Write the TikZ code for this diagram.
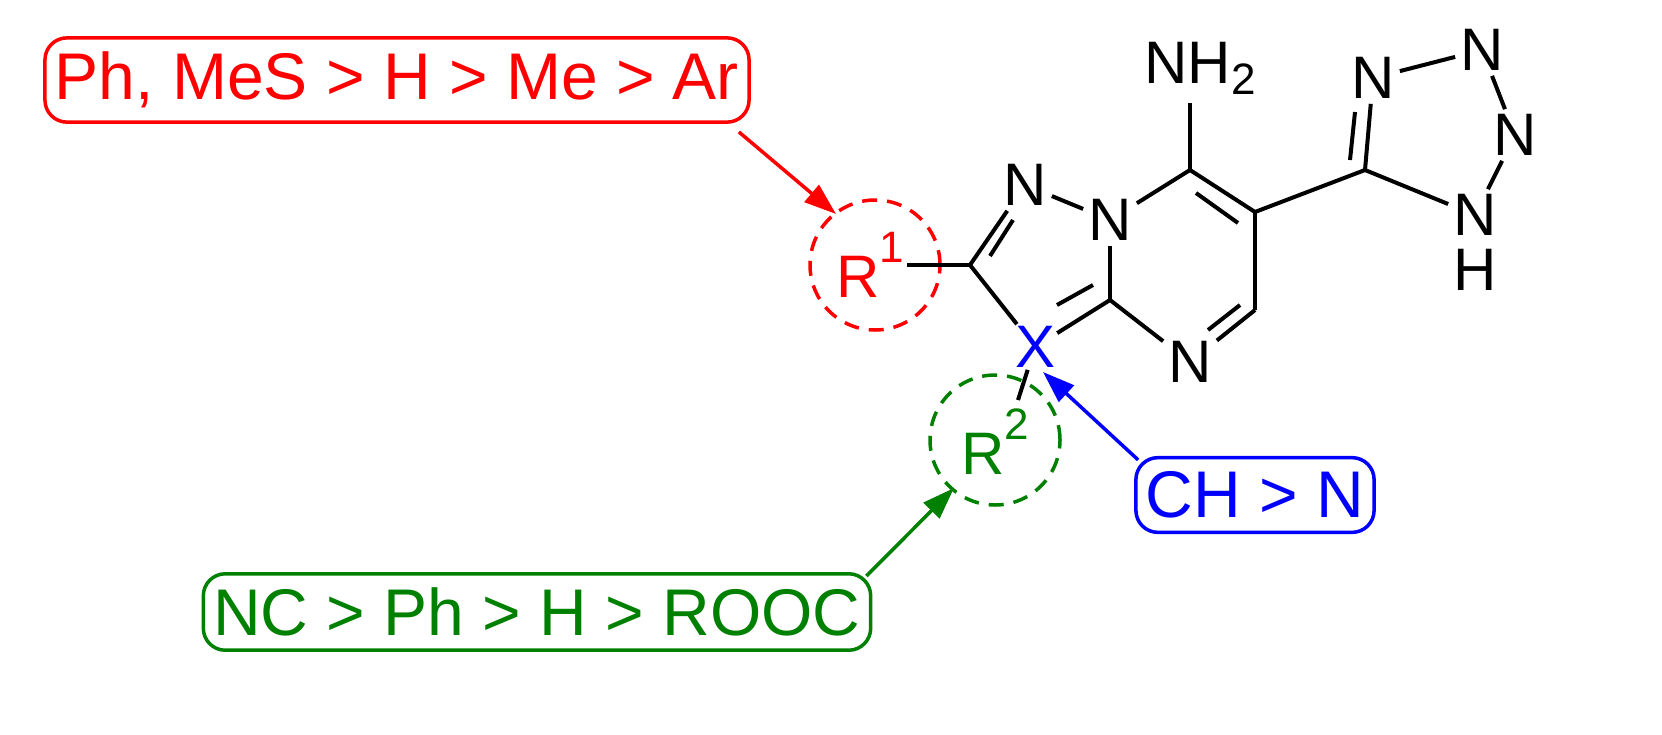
\documentclass[tikz,border=0pt]{standalone}
\usepackage{fontspec}
\setmainfont{Liberation Sans}
\usetikzlibrary{arrows.meta,calc}
\definecolor{gr}{RGB}{0,128,0}
\begin{document}
\begin{tikzpicture}[x=1pt,y=-1pt,
  atom/.style={font=\fontsize{60}{60}\selectfont,inner sep=5pt},
  sup/.style={font=\fontsize{60}{60}\selectfont,inner sep=3pt},
  bond/.style={line width=4pt},
  lbl/.style={draw,line width=3.5pt,rounded corners=22pt,font=\fontsize{66}{66}\selectfont,inner xsep=10pt,inner ysep=14pt},
  arr/.style={line width=3.5pt,-{Triangle[length=32pt,width=22pt]}},
  ring/.style={draw,circle,line width=3.5pt,minimum size=130pt,dash pattern=on 15pt off 10pt}]
\useasboundingbox (0,0) rectangle (1662,734);
% atoms
\node[atom] (n2) at (1025,185) {N};
\node[atom] (n1) at (1110,220) {N};
\coordinate (c7) at (1190,170);
\coordinate (c6) at (1255,212);
\coordinate (c5) at (1255,310);
\node[atom] (n4) at (1190,362) {N};
\coordinate (c3a) at (1110,300);
\node[atom,text=blue,inner sep=2pt] (x) at (1035,347) {X};
\coordinate (c2) at (970,265);
\node[atom] (nh2) at (1200,68) {NH\raisebox{-0.35ex}{\fontsize{44}{44}\selectfont 2}};
\coordinate (nh2a) at (1190,103);
\coordinate (ct) at (1365,170);
\node[atom] (t4) at (1373,78) {N};
\node[atom] (t3) at (1482,50) {N};
\node[atom] (t2) at (1515,135) {N};
\node[atom] (t1) at (1475,215) {N};
\node[atom] (th) at (1475,270) {H};
% substituent rings
\node[ring,red] (r1c) at (875,265) {};
\node[sup,text=red] (r1) at (870,265) {R\raisebox{1.1ex}{\fontsize{44}{44}\selectfont 1}};
\node[ring,gr] (r2c) at (995,440) {};
\node[sup,text=gr] (r2) at (995,442) {R\raisebox{1.1ex}{\fontsize{44}{44}\selectfont 2}};
\coordinate (r2a) at (1018,400);
% bonds
\draw[bond] (c2) -- (n2);
\draw[bond] (990,256) -- (1013,220);
\draw[bond] (n2) -- (n1);
\draw[bond] (n1) -- (c7);
\draw[bond] (c7) -- (c6);
\draw[bond] (1196,193) -- (1238,223);
\draw[bond] (c6) -- (c5);
\draw[bond] (c5) -- (n4);
\draw[bond] (1240,305) -- (1208,330);
\draw[bond] (n4) -- (c3a);
\draw[bond] (c3a) -- (n1);
\draw[bond] (c3a) -- (x);
\draw[bond] (1093,285) -- (1057,305);
\draw[bond] (x) -- (c2);
\draw[bond] (c2) -- (r1);
\draw[bond] (x) -- (r2a);
\draw[bond] (c7) -- (nh2a);
\draw[bond] (c6) -- (ct);
\draw[bond] (ct) -- (t4);
\draw[bond] (1350,160) -- (1355,112);
\draw[bond] (t4) -- (t3);
\draw[bond] (t3) -- (t2);
\draw[bond] (t2) -- (t1);
\draw[bond] (t1) -- (ct);
% labels
\node[lbl,red] (b1) at (397,80) {Ph, MeS > H > Me > Ar};
\node[lbl,gr] (b2) at (537,612) {NC > Ph > H > ROOC};
\node[lbl,blue] (b3) at (1255,495) {CH > N};
\draw[arr,red] (b1.south east) ++(-12,8) coordinate (a1) -- (836,214);
\draw[arr,gr] (b2.north east) ++(-6,4) coordinate (a2) -- (954,488);
\draw[arr,blue] (b3.north west) ++(4,4) coordinate (a3) -- (1043,372);
\end{tikzpicture}
\end{document}
